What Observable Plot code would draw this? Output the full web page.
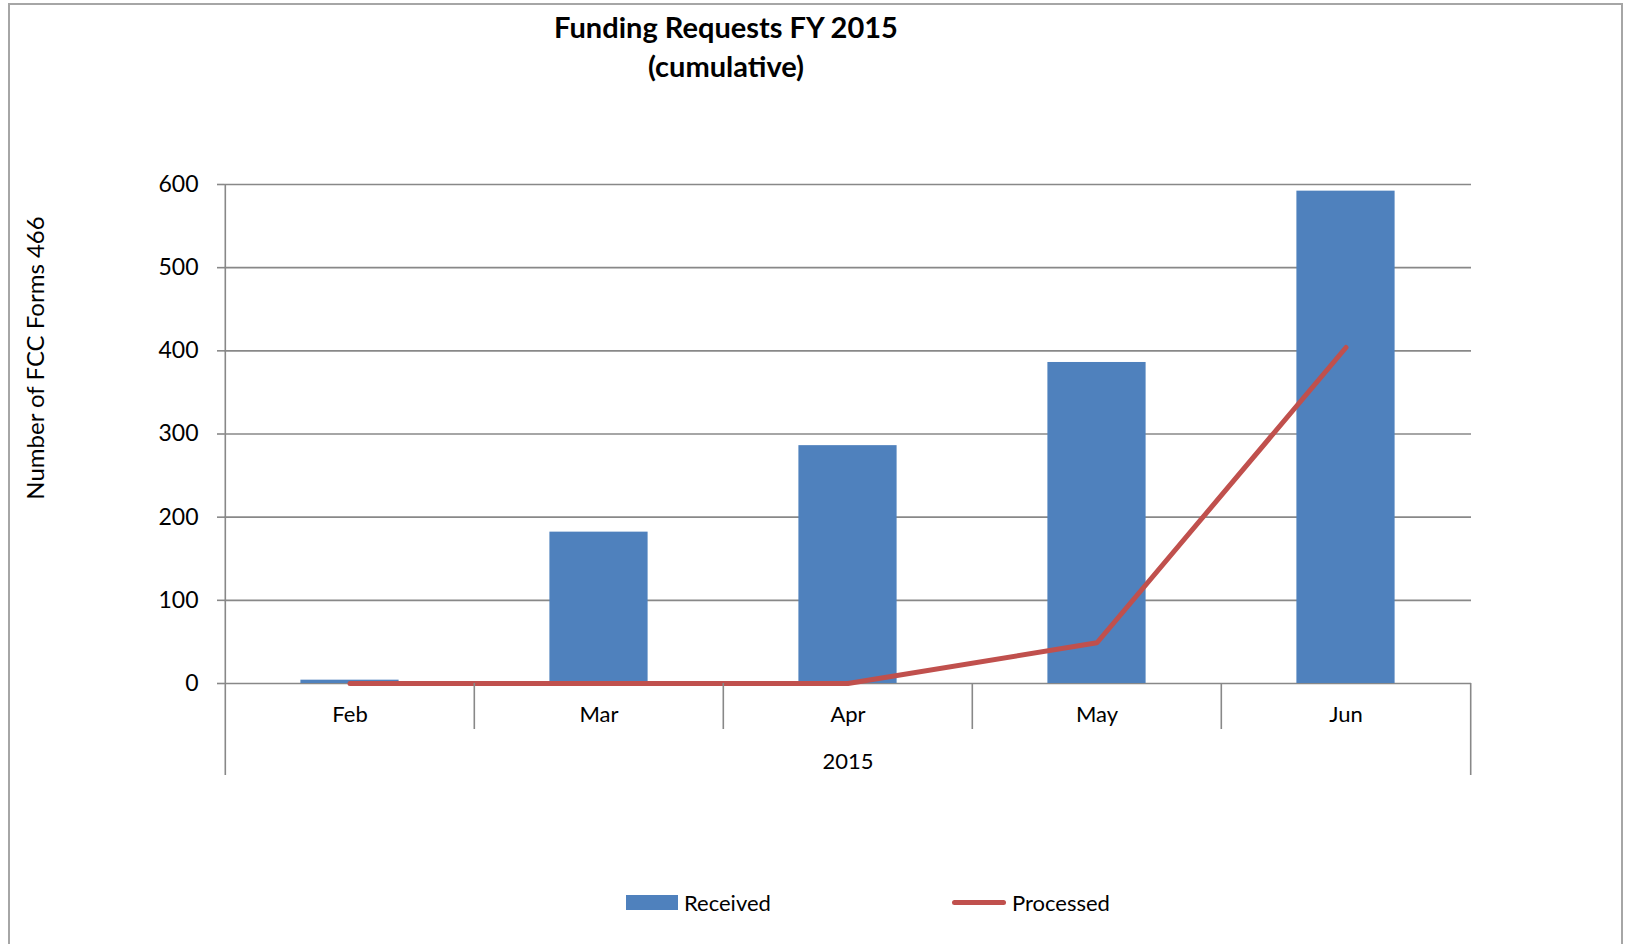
<!DOCTYPE html>
<html>
<head>
<meta charset="utf-8">
<script src="https://cdn.jsdelivr.net/npm/d3@7"></script>
<script src="https://cdn.jsdelivr.net/npm/@observablehq/plot@0.6"></script>
<style>
  html, body { margin: 0; padding: 0; background: #fff; }
  #wrap { position: relative; width: 1627px; height: 944px; overflow: hidden; font-family: Lato, "Open Sans", sans-serif; color: #000; }
  #frame { position: absolute; left: 8px; top: 3px; width: 1615px; height: 960px; border: 2px solid #a6a6a6; box-sizing: border-box; }
  #title { position: absolute; left: 476px; width: 500px; top: 7px; text-align: center; font-weight: bold; font-size: 29px; line-height: 39px; }
  #ylabel { position: absolute; left: 34px; top: 358px; transform: translate(-50%, -50%) rotate(-90deg); white-space: nowrap; font-size: 24px; }
  #chart { position: absolute; left: 0; top: 0; }
  .legend { position: absolute; top: 889px; font-size: 22px; display: flex; align-items: center; }
  .sw { display: inline-block; }
</style>
</head>
<body>
<div id="wrap">
  <div id="frame"></div>
  <div id="title">Funding Requests FY 2015<br>(cumulative)</div>
  <div id="ylabel">Number of FCC Forms 466</div>
  <div id="chart"></div>
  <div class="legend" style="left:626px"><span class="sw" style="width:52px;height:15px;background:#4F81BD;margin-right:6px"></span>Received</div>
  <div class="legend" style="left:952px"><span class="sw" style="width:54px;height:5px;border-radius:3px;background:#C0504D;margin-right:6px"></span>Processed</div>
</div>
<script>
const months = ["Feb", "Mar", "Apr", "May", "Jun"];
const received = [4, 182, 286, 386, 592];
const processed = [0, 0, 0, 49, 404];
const yTicks = [0, 100, 200, 300, 400, 500, 600];
const yearLabel = "2015";

const data = months.map((m, i) => ({month: m, received: received[i], processed: processed[i]}));

const W = 1627, H = 800, mL = 224, mR = 156, mT = 184, mB = 117;
const bw = (W - mL - mR) / months.length;
const barW = 98.6;
const inset = (bw - barW) / 2;
const gray = "#888888";
const font = "Lato, 'Open Sans', sans-serif";

const chart = Plot.plot({
  width: W, height: H,
  marginLeft: mL, marginRight: mR, marginTop: mT, marginBottom: mB,
  style: {fontFamily: font, fontSize: "23px", color: "#000", background: "transparent"},
  x: {domain: months, type: "band", padding: 0, axis: null},
  y: {domain: [0, 600], axis: null},
  marks: [
    Plot.ruleY(yTicks, {y: d => d, stroke: gray, strokeWidth: 1.6}),
    Plot.axisY({ticks: yTicks, tickSize: 7, tickPadding: 19, stroke: gray, strokeWidth: 1.6, strokeOpacity: 1, tickFormat: d => d, fontSize: 23, fill: "#000", label: null}),
    Plot.barY(data, {x: "month", y: "received", fill: "#4F81BD", insetLeft: inset, insetRight: inset}),
    Plot.line(data, {x: "month", y: "processed", stroke: "#C0504D", strokeWidth: 5, strokeLinejoin: "miter"}),
    // left axis line / outer left separator
    Plot.ruleX([months[0]], {x: d => d, dx: -bw / 2, stroke: gray, strokeWidth: 1.6, insetBottom: -92}),
    // interior separators
    Plot.ruleX(months.slice(1), {x: d => d, dx: -bw / 2, stroke: gray, strokeWidth: 1.6, insetTop: H - mT - mB, insetBottom: -46}),
    // outer right separator
    Plot.ruleX([months[months.length - 1]], {x: d => d, dx: bw / 2, stroke: gray, strokeWidth: 1.6, insetTop: H - mT - mB, insetBottom: -92}),
    Plot.text(months, {x: d => d, text: d => d, frameAnchor: "bottom", dy: 38, fontSize: 22, fill: "#000"}),
    Plot.text([yearLabel], {text: d => d, frameAnchor: "bottom", dy: 85, fontSize: 22, fill: "#000"})
  ]
});
document.getElementById("chart").appendChild(chart);
</script>
</body>
</html>
